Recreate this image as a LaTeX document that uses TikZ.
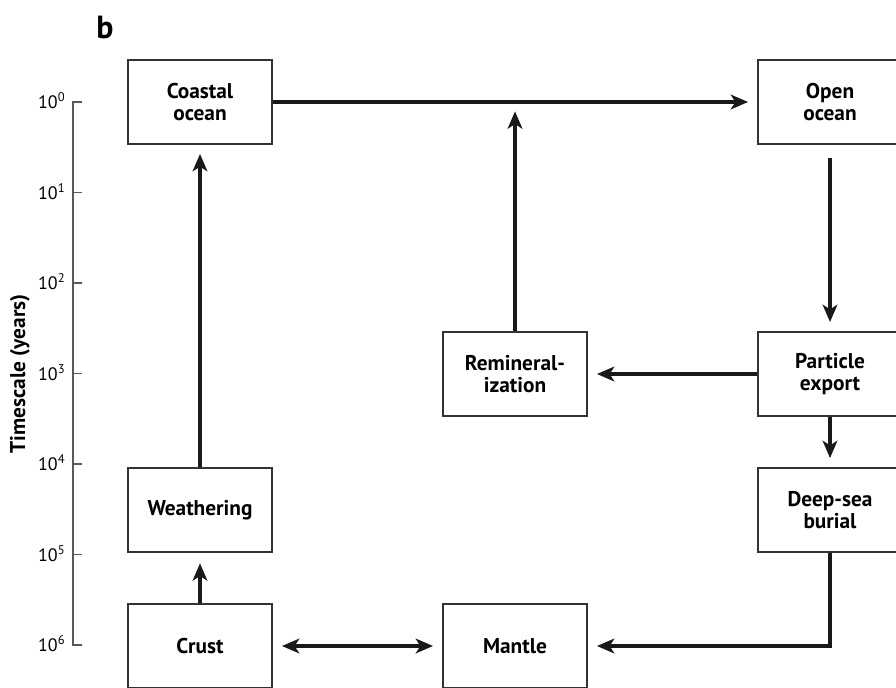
\documentclass[tikz,border=0pt]{standalone}
\usepackage{fontspec}
\setmainfont{PT Sans}
\usetikzlibrary{arrows.meta}
\begin{document}
\begin{tikzpicture}[x=0.75pt,y=-0.75pt,
  box/.style={draw=black!80,line width=0.9pt,fill=white,minimum width=108pt,minimum height=63pt,align=center,font=\fontsize{16}{17}\selectfont\bfseries},
  flow/.style={line width=2.4pt,draw=black!90,-{Stealth[length=13pt,width=11pt,inset=3.5pt]},shorten >=7pt},
  axisline/.style={draw=black!65,line width=1.1pt}]
\useasboundingbox (0,0) rectangle (896,687);
% panel letter
\node[font=\fontsize{24}{26}\selectfont\bfseries] (letter) at (105,27) {b};
% timescale axis
\draw[axisline] (82,102) -- (73,102) -- (73,645) -- (82,645);
\foreach \e in {0,...,6} {
  \coordinate (t\e) at (73,102+\e*90.5);
  \draw[axisline] (t\e) -- ++(9,0);
  \node[left,font=\fontsize{13.5}{14}\selectfont] (tl\e) at (70,101+\e*90.5) {10\textsuperscript{\e}};
}
\node[rotate=90,font=\fontsize{16}{17}\selectfont\bfseries] (ylabel) at (20,374) {Timescale (years)};
% boxes
\node[box] (coast) at (200,102) {Coastal\\ocean};
\node[box] (open) at (830,102) {Open\\ocean};
\node[box] (remin) at (515,374) {Remineral-\\ization};
\node[box] (export) at (830,374) {Particle\\export};
\node[box] (weather) at (200,510) {Weathering};
\node[box] (burial) at (830,510) {Deep-sea\\burial};
\node[box] (crust) at (200,646) {Crust};
\node[box] (mantle) at (515,646) {Mantle};
% fluxes
\coordinate (join) at (515,102);
\draw[flow] (coast.east) -- (open.west);
\draw[flow] (remin.north) -- (join);
\draw[flow,shorten <=10pt] (open.south) -- (export.north);
\draw[flow] (export.west) -- (remin.east);
\draw[flow] (export.south) -- (burial.north);
\draw[flow] (weather.north) -- (coast.south);
\draw[flow] (crust.north) -- (weather.north |- 0,554);
\draw[flow,{Stealth[length=13pt,width=11pt,inset=3.5pt]}-{Stealth[length=13pt,width=11pt,inset=3.5pt]},shorten <=7pt] (crust.east) -- (mantle.west);
\draw[flow] (burial.south) |- (mantle.east);
\end{tikzpicture}
\end{document}
